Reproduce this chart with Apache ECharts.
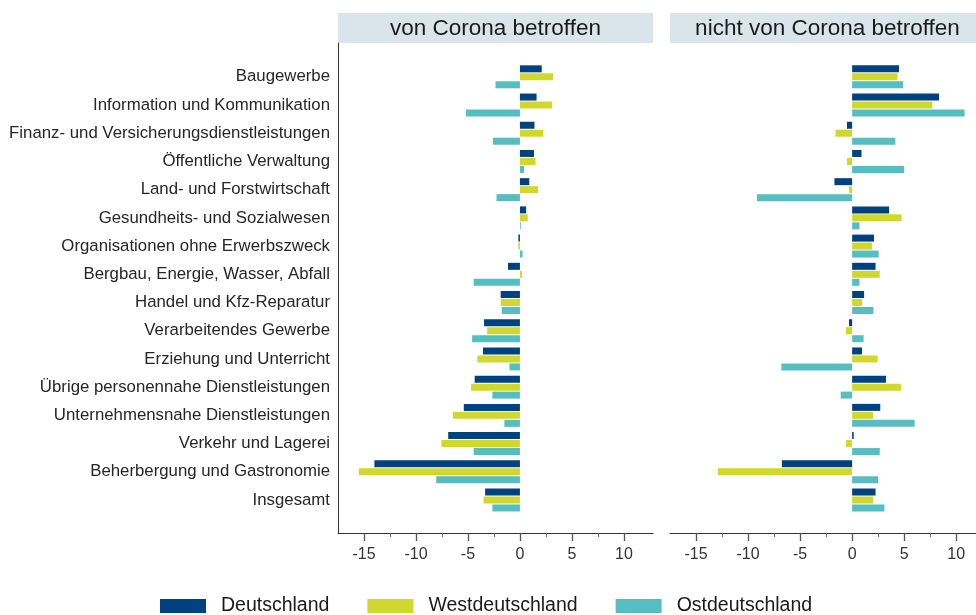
<!DOCTYPE html>
<html>
<head>
<meta charset="utf-8">
<script src="https://cdn.jsdelivr.net/npm/echarts@6/dist/echarts.min.js"></script>
<style>html,body{margin:0;padding:0;background:#fff;}#c{width:976px;height:615px;}</style>
</head>
<body>
<div id="c"></div>
<script>
const categories = [
  'Baugewerbe',
  'Information und Kommunikation',
  'Finanz- und Versicherungsdienstleistungen',
  'Öffentliche Verwaltung',
  'Land- und Forstwirtschaft',
  'Gesundheits- und Sozialwesen',
  'Organisationen ohne Erwerbszweck',
  'Bergbau, Energie, Wasser, Abfall',
  'Handel und Kfz-Reparatur',
  'Verarbeitendes Gewerbe',
  'Erziehung und Unterricht',
  'Übrige personennahe Dienstleistungen',
  'Unternehmensnahe Dienstleistungen',
  'Verkehr und Lagerei',
  'Beherbergung und Gastronomie',
  'Insgesamt'
];
const panelTitles = ['von Corona betroffen', 'nicht von Corona betroffen'];
const seriesNames = ['Deutschland', 'Westdeutschland', 'Ostdeutschland'];

const deutschlandCorona = [2.1, 1.6, 1.4, 1.35, 0.9, 0.6, -0.15, -1.15, -1.85, -3.45, -3.55, -4.35, -5.4, -6.9, -14.0, -3.35];
const westCorona = [3.2, 3.1, 2.25, 1.5, 1.75, 0.75, -0.15, 0.2, -1.85, -3.15, -4.1, -4.7, -6.45, -7.55, -15.5, -3.5];
const ostCorona = [-2.35, -5.2, -2.6, 0.4, -2.25, 0.08, 0.25, -4.45, -1.75, -4.6, -1.0, -2.65, -1.5, -4.45, -8.05, -2.65];

const deutschlandNicht = [4.5, 8.35, -0.5, 0.9, -1.7, 3.55, 2.1, 2.25, 1.15, -0.3, 0.95, 3.25, 2.7, 0.15, -6.75, 2.25];
const westNicht = [4.35, 7.7, -1.6, -0.5, -0.3, 4.75, 1.9, 2.65, 0.95, -0.6, 2.45, 4.7, 2.0, -0.6, -12.9, 2.0];
const ostNicht = [4.9, 10.8, 4.15, 5.0, -9.15, 0.7, 2.55, 0.7, 2.05, 1.1, -6.8, -1.1, 6.0, 2.65, 2.5, 3.1];

const majorTicks = [-15, -10, -5, 0, 5, 10];
const minorTicks = [-12.5, -7.5, -2.5, 2.5, 7.5];
const xMin = -17.5;
const xMaxPanels = [12.8, 11.9];

const colors = ['#00427f', '#d0d72d', '#56bec1'];
const FONT = 'Liberation Sans, Arial, sans-serif';

const chart = echarts.init(document.getElementById('c'), null, {renderer: 'canvas'});

const panelLeft = [338, 670];
const panelWidth = [315, 306];
const stripWidth = 315;

const grids = [];
const xAxes = [];
const yAxes = [];
panelLeft.forEach((l, i) => {
  grids.push({left: l, top: 43, width: panelWidth[i], height: 490});
});
panelLeft.forEach((l, i) => {
  grids.push({left: l, top: 62.7, width: panelWidth[i], height: 451.4});
});
// frame axes (major + minor)
[0, 1].forEach(g => {
  xAxes.push({
    type: 'value', gridIndex: g, min: xMin, max: xMaxPanels[g], position: 'bottom',
    axisLine: {show: true, onZero: false, lineStyle: {color: '#333', width: 1}},
    axisTick: {show: true, customValues: majorTicks, length: 8, lineStyle: {color: '#555', width: 1.3}},
    axisLabel: {show: true, customValues: majorTicks, margin: 14, fontSize: 16, color: '#333', fontFamily: FONT},
    splitLine: {show: false}
  });
  xAxes.push({
    type: 'value', gridIndex: g, min: xMin, max: xMaxPanels[g], position: 'bottom',
    axisLine: {show: false, onZero: false},
    axisTick: {show: true, customValues: minorTicks, length: 4, lineStyle: {color: '#666', width: 1}},
    axisLabel: {show: false, customValues: minorTicks},
    splitLine: {show: false}
  });
});
// data axes
[2, 3].forEach((g, i) => {
  xAxes.push({type: 'value', gridIndex: g, min: xMin, max: xMaxPanels[i], show: false});
});
yAxes.push({type: 'value', gridIndex: 0, min: 0, max: 1,
  axisLine: {show: true, onZero: false, lineStyle: {color: '#333', width: 1}},
  axisTick: {show: false}, axisLabel: {show: false}, splitLine: {show: false}});
yAxes.push({type: 'value', gridIndex: 1, min: 0, max: 1, show: false});
yAxes.push({type: 'category', gridIndex: 2, data: categories, inverse: true,
  axisLine: {show: false}, axisTick: {show: false},
  axisLabel: {interval: 0, margin: 8, fontSize: 16.8, color: '#262626', fontFamily: FONT, padding: [4, 0, 0, 0]},
  splitLine: {show: false}});
yAxes.push({type: 'category', gridIndex: 3, data: categories, inverse: true, show: false});

const panelData = [
  [deutschlandCorona, westCorona, ostCorona],
  [deutschlandNicht, westNicht, ostNicht]
];
const series = [];
panelData.forEach((arrs, p) => {
  arrs.forEach((arr, s) => {
    series.push({
      type: 'bar', name: seriesNames[s], data: arr,
      xAxisIndex: 4 + p, yAxisIndex: 2 + p,
      barWidth: 7, barGap: '14%',
      itemStyle: {color: colors[s]},
      animation: false
    });
  });
});

const graphics = [];
panelTitles.forEach((t, i) => {
  graphics.push({
    type: 'rect', left: panelLeft[i], top: 13,
    shape: {width: stripWidth, height: 30},
    style: {fill: '#dae5eb'}
  });
  graphics.push({
    type: 'text', x: panelLeft[i] + stripWidth / 2, y: 29,
    style: {text: t, fill: '#1a1a1a', font: '22.5px ' + FONT, textAlign: 'center', textVerticalAlign: 'middle'}
  });
});

chart.setOption({
  animation: false,
  color: colors,
  grid: grids,
  xAxis: xAxes,
  yAxis: yAxes,
  series: series,
  graphic: graphics,
  legend: {
    data: seriesNames,
    left: 155, top: 591,
    itemWidth: 46, itemHeight: 14, itemGap: 38,
    icon: 'rect',
    textStyle: {fontSize: 19.5, color: '#1a1a1a', fontFamily: FONT, padding: [0, 0, 0, 10]}
  }
});
</script>
</body>
</html>
